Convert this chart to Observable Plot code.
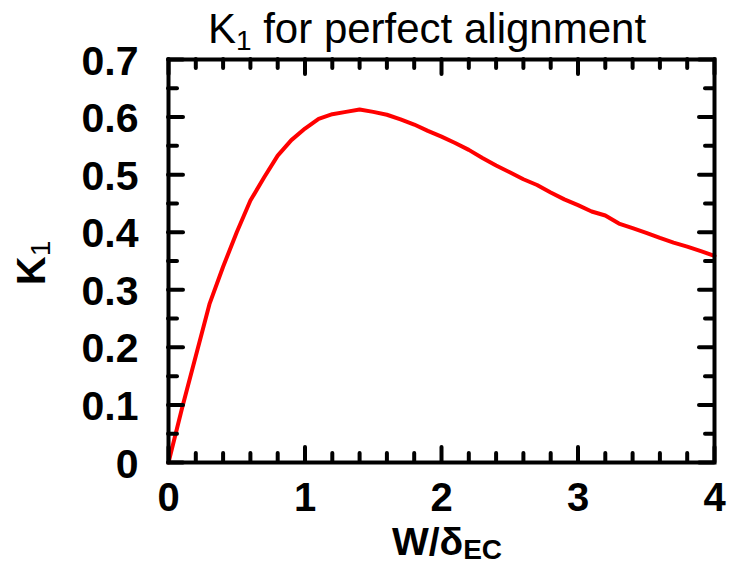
<!DOCTYPE html>
<html>
<head>
<meta charset="utf-8">
<script src="https://cdn.jsdelivr.net/npm/d3@7"></script>
<script src="https://cdn.jsdelivr.net/npm/@observablehq/plot@0.6"></script>
<style>
  body { margin: 0; background: #fff; }
  #chart svg { display: block; }
</style>
</head>
<body>
<div id="chart"></div>
<script>
// Normalised width W/δEC and the resulting K1 coefficient
const ratio = [0, 0.1, 0.2, 0.3, 0.4, 0.5, 0.6, 0.7, 0.8, 0.9, 1.0,
               1.1, 1.2, 1.3, 1.4, 1.5, 1.6, 1.7, 1.8, 1.9, 2.0,
               2.1, 2.2, 2.3, 2.4, 2.5, 2.6, 2.7, 2.8, 2.9, 3.0,
               3.1, 3.2, 3.3, 3.4, 3.5, 3.6, 3.7, 3.8, 3.9, 4.0];
const k1 = [0, 0.095, 0.185, 0.275, 0.34, 0.40, 0.455, 0.495, 0.533, 0.56, 0.58,
            0.597, 0.605, 0.609, 0.613, 0.609, 0.604, 0.596, 0.587, 0.576, 0.566,
            0.555, 0.543, 0.529, 0.516, 0.504, 0.492, 0.482, 0.469, 0.457, 0.447,
            0.436, 0.429, 0.415, 0.407, 0.399, 0.390, 0.382, 0.375, 0.367, 0.359];

const xTickValues = [0, 1, 2, 3, 4];
const yTickValues = [0, 0.1, 0.2, 0.3, 0.4, 0.5, 0.6, 0.7];
const yTickLabels = ["0", "0.1", "0.2", "0.3", "0.4", "0.5", "0.6", "0.7"];
const xMinorValues = [0.2, 0.4, 0.6, 0.8, 1.2, 1.4, 1.6, 1.8, 2.2, 2.4, 2.6, 2.8, 3.2, 3.4, 3.6, 3.8];
const yMinorValues = [0.05, 0.15, 0.25, 0.35, 0.45, 0.55, 0.65];

const data = ratio.map((x, i) => ({x, k: k1[i]}));

const W = 729, H = 571;
const margin = {top: 59, right: 15, bottom: 109, left: 168};
const innerW = W - margin.left - margin.right;
const innerH = H - margin.top - margin.bottom;
const majorLen = 15, minorLen = 9;
const tickStyle = {stroke: "black", strokeWidth: 4, strokeLinecap: "round"};

// inward ticks on all four sides of the frame
const xTicks = (values, len) => [
  Plot.ruleX(values, {x: d => d, insetTop: innerH - len, ...tickStyle}),
  Plot.ruleX(values, {x: d => d, insetBottom: innerH - len, ...tickStyle})
];
const yTicks = (values, len) => [
  Plot.ruleY(values, {y: d => d, insetRight: innerW - len, ...tickStyle}),
  Plot.ruleY(values, {y: d => d, insetLeft: innerW - len, ...tickStyle})
];

const chart = Plot.plot({
  width: W,
  height: H,
  marginTop: margin.top,
  marginRight: margin.right,
  marginBottom: margin.bottom,
  marginLeft: margin.left,
  style: {fontFamily: "'Liberation Sans', Arial, sans-serif", background: "#fff", color: "black"},
  x: {domain: [0, 4], axis: null},
  y: {domain: [0, 0.7], axis: null},
  marks: [
    Plot.line(data, {x: "x", y: "k", stroke: "#ff0000", strokeWidth: 4, strokeLinejoin: "round"}),
    ...xTicks(xTickValues, majorLen),
    ...xTicks(xMinorValues, minorLen),
    ...yTicks(yTickValues, majorLen),
    ...yTicks(yMinorValues, minorLen),
    Plot.frame({stroke: "black", strokeWidth: 4}),
    Plot.text(xTickValues, {
      x: d => d, text: d => String(d), frameAnchor: "bottom", lineAnchor: "top",
      dy: 20, fontSize: 40, fontWeight: "bold", fill: "black"
    }),
    Plot.text(yTickValues, {
      y: d => d, text: (d, i) => yTickLabels[i], frameAnchor: "left", textAnchor: "end",
      dx: -30, dy: 2, fontSize: 41, fontWeight: "bold", fill: "black"
    })
  ]
});

document.getElementById("chart").appendChild(chart);

const svg = d3.select(chart);
const font = "'Liberation Sans', Arial, sans-serif";

// title with subscript
const title = svg.append("text")
  .attr("x", 427).attr("y", 43)
  .attr("text-anchor", "middle")
  .attr("font-family", font).attr("font-size", 42).attr("fill", "black");
title.append("tspan").text("K");
title.append("tspan").attr("font-size", 28).attr("dy", 7).text("1");
title.append("tspan").attr("dy", -7).text(" for perfect alignment");

// x-axis label
const xl = svg.append("text")
  .attr("x", 447).attr("y", 555)
  .attr("text-anchor", "middle")
  .attr("font-family", font).attr("font-size", 39).attr("font-weight", "bold").attr("fill", "black");
xl.append("tspan").text("W/δ");
xl.append("tspan").attr("font-size", 28).attr("dy", 4).text("EC");

// y-axis label
const yl = svg.append("text")
  .attr("transform", "translate(45,263) rotate(-90)")
  .attr("text-anchor", "middle")
  .attr("font-family", font).attr("font-size", 40).attr("font-weight", "bold").attr("fill", "black");
yl.append("tspan").text("K");
yl.append("tspan").attr("font-size", 28).attr("font-weight", "normal").attr("dy", 5).text("1");
</script>
</body>
</html>
